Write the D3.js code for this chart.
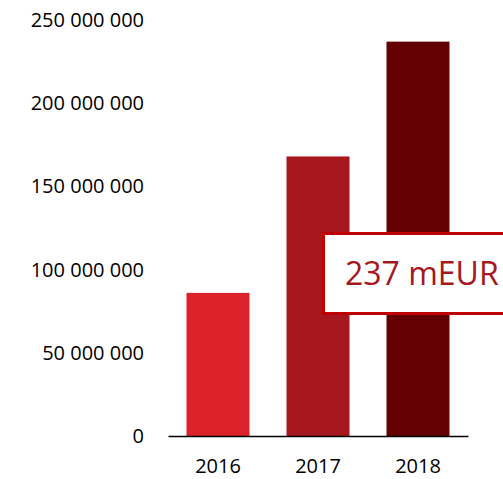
<!DOCTYPE html>
<html lang="en">
<head>
    <meta charset="utf-8">
    <title>Revenue by year</title>
    <script src="https://d3js.org/d3.v7.min.js"></script>
    <style>
        body { margin: 0; background: white; }
        text { font-family: "Open Sans", sans-serif; }
    </style>
</head>
<body>
    <div id="chart"></div>
    <script>
        // Chart data
        var years = ["2016", "2017", "2018"];
        var values = [86000000, 168000000, 237000000];
        var barColors = ["#db2129", "#a6171e", "#640000"];
        var yTicks = [0, 50000000, 100000000, 150000000, 200000000, 250000000];
        var calloutText = "237 mEUR";

        var width = 503, height = 479;

        var svg = d3.select("#chart").append("svg")
            .attr("width", width)
            .attr("height", height);

        var x = d3.scaleBand()
            .domain(years)
            .range([168, 468])
            .paddingInner(0.37)
            .paddingOuter(0.185);

        var y = d3.scaleLinear()
            .domain([0, 250000000])
            .range([436, 20]);

        var fmt = function(d) { return d3.format(",")(d).replace(/,/g, " "); };

        // y labels (no axis line)
        svg.append("g")
            .selectAll("text")
            .data(yTicks)
            .join("text")
            .attr("x", 144)
            .attr("y", d => y(d))
            .attr("dy", "0.35em")
            .attr("text-anchor", "end")
            .attr("font-size", 20)
            .attr("fill", "#000")
            .text(fmt);

        // bars
        svg.append("g")
            .selectAll("rect")
            .data(values)
            .join("rect")
            .attr("x", (d, i) => x(years[i]))
            .attr("y", d => y(d))
            .attr("width", x.bandwidth())
            .attr("height", d => y(0) - y(d))
            .attr("fill", (d, i) => barColors[i]);

        // baseline + year labels
        var xAxis = svg.append("g")
            .attr("transform", "translate(0," + y(0) + ")")
            .call(d3.axisBottom(x).tickSize(0).tickPadding(23));
        xAxis.select(".domain").attr("stroke", "#000").attr("stroke-width", 1.3);
        xAxis.selectAll("text")
            .attr("font-size", 20)
            .attr("fill", "#000")
            .style("font-family", "'Open Sans', sans-serif");

        // callout box
        var box = svg.append("g");
        box.append("rect")
            .attr("x", 323.5)
            .attr("y", 233.5)
            .attr("width", 200)
            .attr("height", 80)
            .attr("fill", "white")
            .attr("stroke", "#c00000")
            .attr("stroke-width", 3);
        box.append("text")
            .attr("x", 345)
            .attr("y", 285)
            .attr("font-size", 32)
            .attr("fill", "#a6171e")
            .text(calloutText);
    </script>
</body>
</html>
